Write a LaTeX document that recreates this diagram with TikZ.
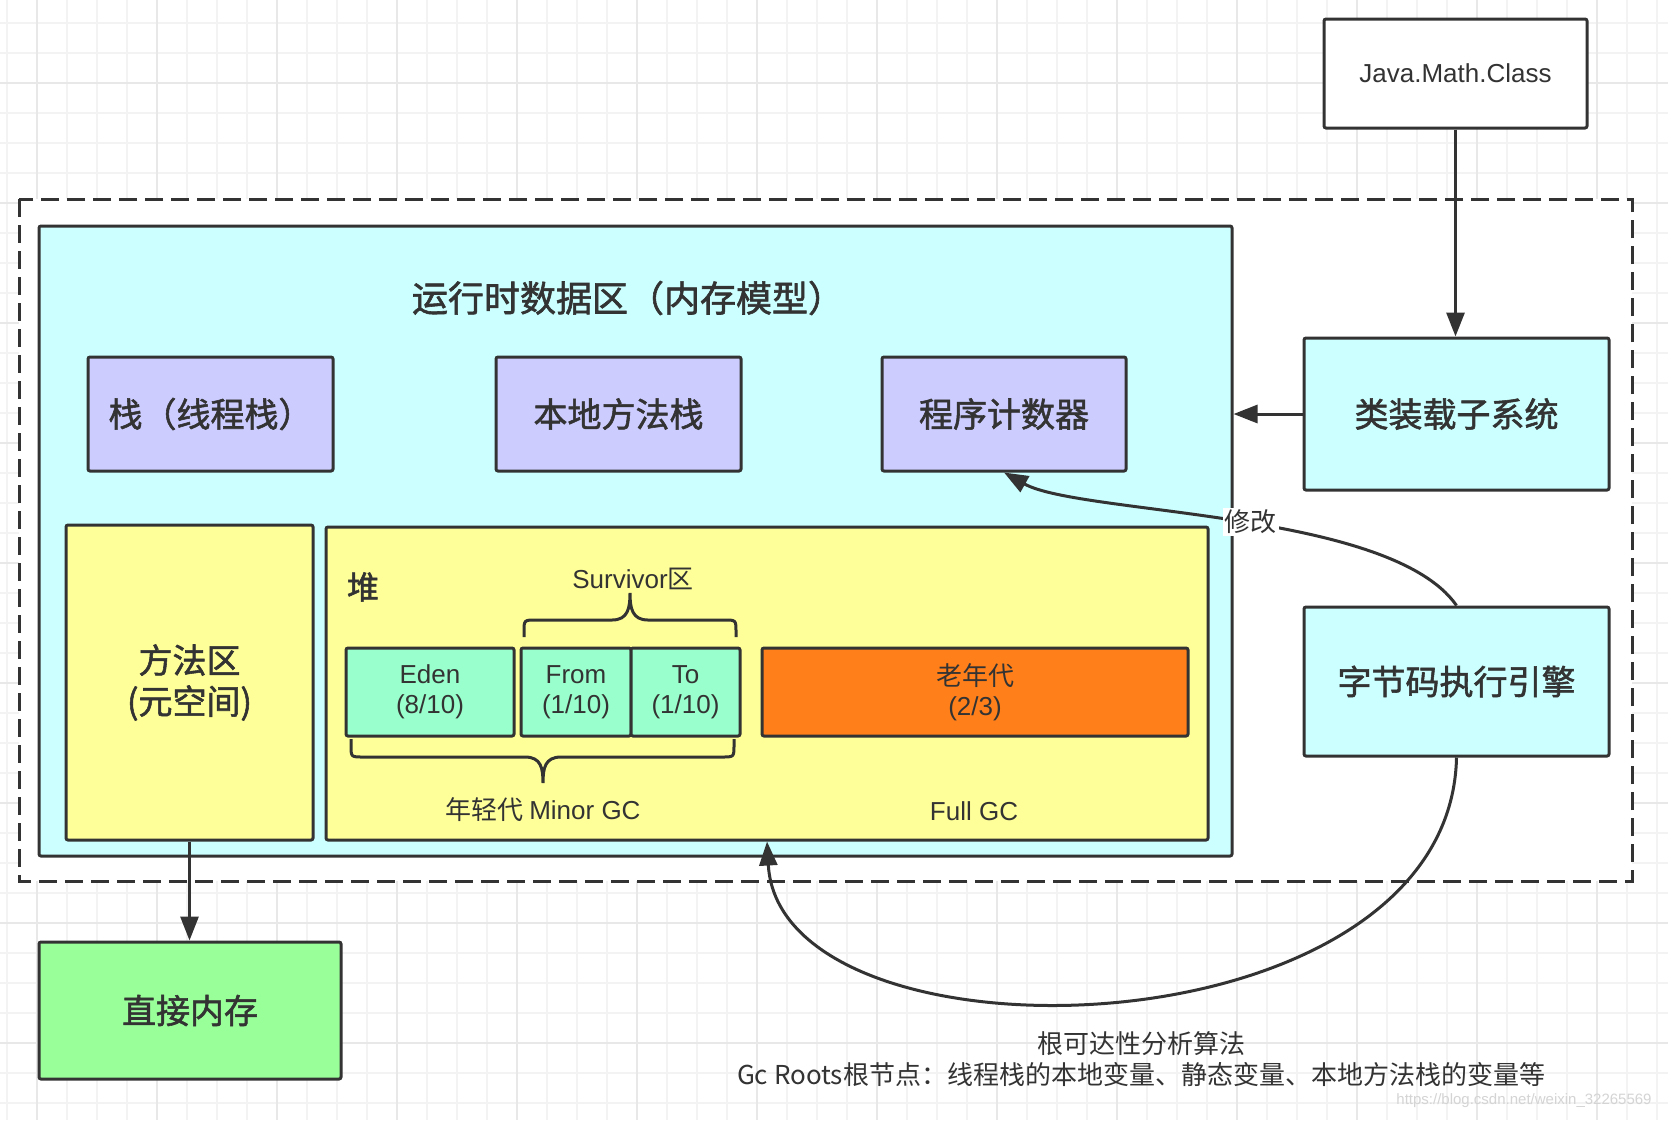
\documentclass[tikz,border=0pt]{standalone}
\usepackage{fontspec}
\setmainfont{Noto Sans CJK SC}[BoldFont=Noto Sans CJK SC,BoldFeatures={FakeBold=1.6}]
\newfontfamily\latinfont{Liberation Sans}
\usetikzlibrary{arrows.meta}
\definecolor{ink}{HTML}{333333}
\definecolor{runbg}{HTML}{CCFFFF}
\definecolor{lavender}{HTML}{CCCCFF}
\definecolor{heapbg}{HTML}{FFFF99}
\definecolor{mint}{HTML}{99FFCC}
\definecolor{oldgen}{HTML}{FF801A}
\definecolor{direct}{HTML}{99FF99}
\definecolor{gridlo}{HTML}{F3F3F3}
\definecolor{gridhi}{HTML}{E8E8E8}
\tikzset{
  gridminor/.style = {draw=gridlo,line width=0.8pt},
  gridmajor/.style = {draw=gridhi,line width=1pt},
  jvmline/.style   = {draw=ink,fill=white,line width=1.5pt,dash pattern=on 9pt off 4pt},
  box/.style       = {draw=ink,line width=1.5pt,rounded corners=1pt,text=ink,inner sep=0pt},
  bigbox/.style    = {box,font=\bfseries\fontsize{17}{20.5}\selectfont,align=center},
  genbox/.style    = {box,fill=mint,align=center,font=\latinfont\fontsize{13}{15}\selectfont,minimum height=44pt},
  lbl/.style       = {text=ink,inner sep=0pt,font=\fontsize{13}{15}\selectfont},
  arr/.style       = {-{Triangle[length=12pt,width=9pt]},draw=ink,line width=1.5pt},
  brace/.style     = {draw=ink,line width=1.5pt}
}

\begin{document}
\begin{tikzpicture}[x=0.5pt,y=-0.5pt]
  \useasboundingbox (0,0) rectangle (1668,1120);
  \fill[white] (0,0) rectangle (1668,1120);
  % grid paper
  \foreach \x in {7,37,...,1667} \draw[gridminor] (\x,0) -- (\x,1120);
  \foreach \y in {23,53,...,1103} \draw[gridminor] (0,\y) -- (1668,\y);
  \foreach \x in {37,157,...,1597} \draw[gridmajor] (\x,0) -- (\x,1120);
  \foreach \y in {83,203,...,1043} \draw[gridmajor] (0,\y) -- (1668,\y);

  % JVM boundary
  \draw[jvmline] (19,199) rectangle (1632,881);

  % runtime data area
  \node[box,fill=runbg,minimum width=596.5pt,minimum height=315pt] (runtime) at (635.5,541) {};
  \node[text=ink,font=\bfseries\fontsize{18}{21}\selectfont] (rtitle) at (628,298) {运行时数据区（内存模型）};
  \node[bigbox,fill=lavender,minimum width=122.5pt,minimum height=57pt] (stack)  at (210.5,414) {栈（线程栈）};
  \node[bigbox,fill=lavender,minimum width=122.5pt,minimum height=57pt] (native) at (618.5,414) {本地方法栈};
  \node[bigbox,fill=lavender,minimum width=122pt,minimum height=57pt]   (pc)     at (1004,414)  {程序计数器};
  \node[bigbox,fill=heapbg,minimum width=123.5pt,minimum height=157.5pt] (method) at (189.5,682.5) {方法区\\(元空间)};
  \node[box,fill=heapbg,minimum width=441pt,minimum height=156.5pt] (heap) at (767,683.5) {};
  \node[text=ink,inner sep=0pt,font=\bfseries\fontsize{16}{18}\selectfont] (heaplbl) at (363,587) {堆};

  % generations
  \node[genbox,minimum width=84pt]   (eden) at (430,692)   {Eden\\(8/10)};
  \node[genbox,minimum width=55pt]   (from) at (576,692)   {From\\(1/10)};
  \node[genbox,minimum width=54.5pt] (to)   at (685.5,692) {To\\(1/10)};
  \node[genbox,fill=oldgen,minimum width=213pt,font=\fontsize{13}{15}\selectfont] (old) at (975,692) {老年代\\{\latinfont (2/3)}};

  % braces
  \draw[brace] (524,637) -- (524,632) .. controls (524,620) .. (536,620) -- (612,620)
    .. controls (628,620) and (630,608) .. (630,593)
    .. controls (630,608) and (632,620) .. (648,620) -- (724,620)
    .. controls (736,620) .. (736,632) -- (736,637);
  \draw[brace] (351,739) -- (351,745) .. controls (351,757) .. (363,757) -- (525,757)
    .. controls (541,757) and (543,768) .. (543,783)
    .. controls (543,768) and (545,757) .. (561,757) -- (722,757)
    .. controls (734,757) .. (734,745) -- (734,739);
  \node[lbl] (survlbl) at (633,579) {{\latinfont Survivor}区};
  \node[lbl] (younglbl) at (543,810) {年轻代 {\latinfont Minor GC}};
  \node[lbl,font=\latinfont\fontsize{13}{15}\selectfont] (fulllbl) at (974,811) {Full GC};

  % outside parts
  \node[box,fill=white,minimum width=131.5pt,minimum height=54.5pt,font=\latinfont\fontsize{13}{15}\selectfont] (java) at (1455.5,73.5) {Java.Math.Class};
  \node[bigbox,fill=runbg,minimum width=152.5pt,minimum height=76pt]   (loader) at (1456.5,414)   {类装载子系统};
  \node[bigbox,fill=runbg,minimum width=152.5pt,minimum height=74.5pt] (engine) at (1456.5,681.5) {字节码执行引擎};
  \node[bigbox,fill=direct,minimum width=151pt,minimum height=68.5pt]  (direct) at (190,1010.5)   {直接内存};

  % connectors
  \draw[arr] (java.south) -- (java.south |- loader.north);
  \draw[arr] (loader.west) -- (loader.west -| runtime.east);
  \draw[arr] (method.south) -- (method.south |- direct.north);
  \draw[arr] (engine.north) .. controls (1390,510) and (1080,515) .. node[pos=0.47,lbl,fill=white,inner sep=1pt] (modlbl) {修改} (pc.south);
  \draw[arr] (engine.south) .. controls (1450,1058) and (780,1075) .. (heap.south);

  \node[lbl,align=center,font=\fontsize{13}{15.5}\selectfont] (gcnote) at (1141,1059.5) {根可达性分析算法\\Gc Roots根节点：线程栈的本地变量、静态变量、本地方法栈的变量等};
  \node[text=black!17,inner sep=0pt,font=\latinfont\fontsize{7.5}{9}\selectfont] (mark) at (1524,1101) {https://blog.csdn.net/weixin\_32265569};
\end{tikzpicture}
\end{document}
